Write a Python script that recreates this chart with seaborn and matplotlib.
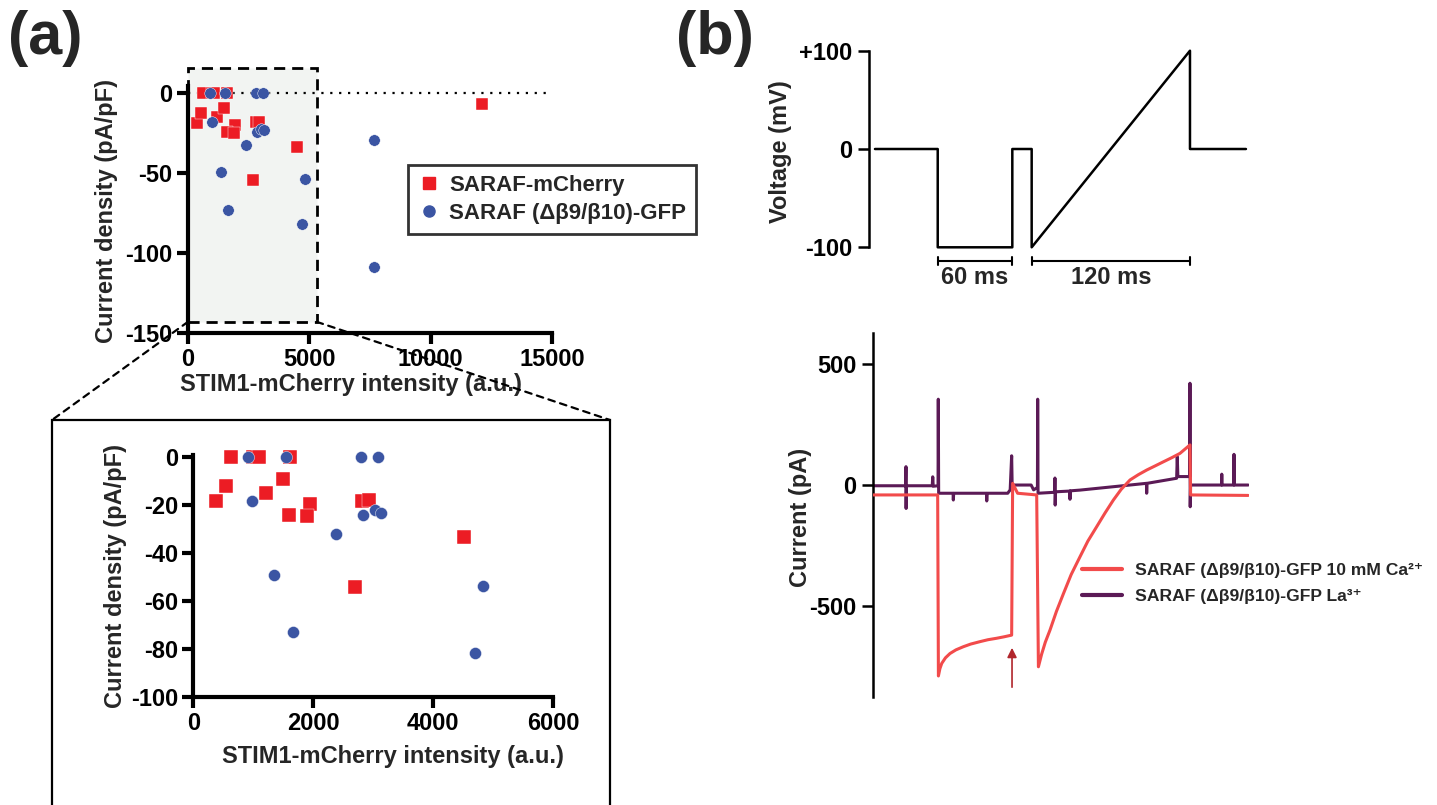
import matplotlib
matplotlib.use("Agg")
import matplotlib.pyplot as plt
import pandas as pd
import seaborn as sns
from matplotlib.lines import Line2D
from matplotlib.patches import Rectangle, ConnectionPatch

# ---------------- data ----------------
red_label = "SARAF-mCherry"
blue_label = "SARAF (Δβ9/β10)-GFP"
red_x = [622, 1000, 1090, 1611, 378, 544, 1211, 1500, 1944, 1594, 1900, 2806, 2928, 4511, 2694, 12100]
red_y = [0, 0, 0, 0, -18.5, -12.2, -15.0, -9.4, -19.7, -24.3, -24.7, -18.3, -18.1, -33.6, -54.2, -6.9]
blue_x = [906, 1544, 2794, 3078, 978, 2833, 3028, 3133, 2378, 1344, 1656, 4822, 4700, 7660, 7660]
blue_y = [0, 0, 0, 0, -18.3, -24.4, -22.2, -23.3, -32.2, -49.4, -73.1, -53.8, -81.9, -29.4, -108.5]

top_xticks = [0, 5000, 10000, 15000]
top_yticks = [0, -50, -100, -150]
ins_xticks = [0, 2000, 4000, 6000]
ins_yticks = [0, -20, -40, -60, -80, -100]
zoom_box_x = (0, 5300)
zoom_box_y = (-143, 15.6)

# voltage protocol (ms, mV)
v_t = [4.6, 55.5, 55.5, 116, 116, 131.7, 131.7, 260.1, 260.1, 305.5]
v_mv = [0, 0, -100, -100, 0, 0, -100, 100, 0, 0]
v_ticks = [100, 0, -100]
v_ticklabels = ["+100", "0", "-100"]
brackets = [(55.5, 116, "60 ms"), (131.7, 260.1, "120 ms")]

# current traces (ms, pA)
ca_label = "SARAF (Δβ9/β10)-GFP 10 mM Ca²⁺"
la_label = "SARAF (Δβ9/β10)-GFP La³⁺"
ca_t = [0, 52.2, 52.8, 54.0, 55.5, 58.5, 62.2, 67, 73, 79, 86.5, 93, 100, 106, 112.2, 113, 117,
        132.5, 133.9, 136.5, 139.5, 143.3, 148.5, 154.3, 160.5, 167.6, 174, 181.2, 188, 194.7,
        201, 208.2, 215, 221.7, 228.5, 235.2, 242, 248.7, 256.8, 257.3, 304]
ca_i = [-41, -41, -790, -760, -738, -715, -697, -682, -669, -658, -648, -640, -634, -628, -621, 7, -34,
        -41, -752, -700, -650, -600, -523, -448, -370, -297, -232, -172, -115, -62,
        -18, 21, 43, 62, 79, 96, 113, 131, 166, -41, -43]
la_t = [0, 26.3, 26.5, 26.6, 26.8, 47.8, 48.2, 48.6, 52.5, 52.7, 53, 64.7, 64.9, 65.2,
        91.8, 92, 92.3, 109, 111, 112.2, 112.6, 128, 130, 133.1, 133.3, 133.6,
        147.1, 147.3, 147.5, 147.8, 159.3, 159.5, 159.8, 167.6, 194.6, 221.5, 221.7, 222,
        246, 246.5, 247, 256.6, 256.8, 257, 257.3, 282.4, 282.6, 282.8, 292.3, 292.5, 292.7, 304]
la_i = [-3, -3, 76, -97, -3, -3, 34, -5, -3, 355, -34, -34, -62, -34,
        -34, -66, -34, -34, -20, 121, 0, 0, -20, -10, 355, -34,
        -30, 29, -83, -28, -25, -59, -24, -21, -7, 7, -34, 7,
        28, 117, 35, 35, 421, -90, 0, 0, 45, 0, 0, 127, 0, 0]
i_ticks = [500, 0, -500]
arrow_t = 112.5
arrow_i = (-848, -662)

# ---------------- style ----------------
sns.set_style("ticks")
plt.rcParams["font.family"] = ["Liberation Sans", "DejaVu Sans"]
plt.rcParams["font.weight"] = "bold"
plt.rcParams["axes.unicode_minus"] = False

RED = "#ec1c24"
BLUE = "#3b55a3"
CA = "#f24b4b"
LA = "#5b1a56"
FS = 17

W, H = 1437, 805
fig = plt.figure(figsize=(W / 100, H / 100), dpi=100)


def rect(l, t, r, b):
    return [l / W, 1 - b / H, (r - l) / W, (b - t) / H]


def place_label(ax, which, px, py):
    inv = ax.transAxes.inverted()
    x, y = inv.transform((px, H - py))
    if which == "y":
        ax.yaxis.set_label_coords(x, y)
        ax.yaxis.label.set_va("center")
    else:
        ax.xaxis.set_label_coords(x, y)
        ax.xaxis.label.set_va("center")


def style_axis(ax, lw, tl, pad):
    for s in ["top", "right"]:
        ax.spines[s].set_visible(False)
    for s in ["left", "bottom"]:
        ax.spines[s].set_linewidth(lw)
        ax.spines[s].set_color("black")
    ax.tick_params(width=lw, length=tl, labelsize=FS, pad=pad, colors="black")
    for lab in ax.get_xticklabels() + ax.get_yticklabels():
        lab.set_fontweight("bold")


df_red = pd.DataFrame({"x": red_x, "y": red_y})
df_blue = pd.DataFrame({"x": blue_x, "y": blue_y})

# ---------------- panel (a) top ----------------
ax1 = fig.add_axes(rect(188, 86, 552, 333))
ax1.set_facecolor("none")
ax1.add_patch(Rectangle((zoom_box_x[0], zoom_box_y[0]), zoom_box_x[1] - zoom_box_x[0],
                        zoom_box_y[1] - zoom_box_y[0], facecolor="#f2f4f2", edgecolor="black",
                        lw=2, ls=(0, (4, 2.5)), clip_on=False, zorder=0))
ax1.axhline(0, color="black", lw=1.6, ls=(0, (1, 3)), zorder=1)
sns.scatterplot(data=df_red, x="x", y="y", marker="s", color=RED, s=72, edgecolor="white",
                linewidth=0.3, ax=ax1, clip_on=False, zorder=3)
sns.scatterplot(data=df_blue, x="x", y="y", marker="o", color=BLUE, s=68, edgecolor="white",
                linewidth=0.3, ax=ax1, clip_on=False, zorder=3)
ax1.set_xlim(0, 15000)
ax1.set_ylim(-150, 4.4)
ax1.set_xticks(top_xticks)
ax1.set_yticks(top_yticks)
ax1.set_xticklabels([str(v) for v in top_xticks])
ax1.set_yticklabels([str(v) for v in top_yticks])
style_axis(ax1, 3, 8, 3)
ax1.set_xlabel("STIM1-mCherry intensity (a.u.)", fontsize=FS, fontweight="bold")
ax1.set_ylabel("Current density (pA/pF)", fontsize=FS, fontweight="bold")
handles = [Line2D([], [], marker="s", ls="", color=RED, markersize=8),
           Line2D([], [], marker="o", ls="", color=BLUE, markersize=8)]
leg = ax1.legend(handles, [red_label, blue_label], loc="upper left",
                 bbox_to_anchor=(408 / W, 1 - 165 / H), bbox_transform=fig.transFigure,
                 fontsize=16, frameon=True, fancybox=False, edgecolor="black",
                 handletextpad=0.4, borderpad=0.45, labelspacing=0.3, handlelength=1.0,
                 borderaxespad=0)
leg.get_frame().set_linewidth(2)
for t in leg.get_texts():
    t.set_fontweight("bold")

# ---------------- panel (a) inset ----------------
ax2 = fig.add_axes(rect(193.3, 444.7, 553.3, 696.7))
ax2.set_facecolor("none")
sns.scatterplot(data=df_red, x="x", y="y", marker="s", color=RED, s=88, edgecolor="white",
                linewidth=0.3, ax=ax2, zorder=3)
sns.scatterplot(data=df_blue, x="x", y="y", marker="o", color=BLUE, s=75, edgecolor="white",
                linewidth=0.3, ax=ax2, zorder=3)
ax2.set_xlim(0, 6000)
ax2.set_ylim(-100, 5)
ax2.spines["left"].set_bounds(-100, 0.7)
ax2.set_xticks(ins_xticks)
ax2.set_yticks(ins_yticks)
ax2.set_xticklabels([str(v) for v in ins_xticks])
ax2.set_yticklabels([str(v) for v in ins_yticks])
style_axis(ax2, 3, 8, 3)
ax2.set_xlabel("STIM1-mCherry intensity (a.u.)", fontsize=FS, fontweight="bold")
ax2.set_ylabel("Current density (pA/pF)", fontsize=FS, fontweight="bold")

# inset frame and zoom connectors
fig.add_artist(Rectangle((52 / W, -0.05), (610 - 52) / W, 1 - 420 / H + 0.05,
                         transform=fig.transFigure, fill=False, edgecolor="black", lw=1.6))
for xa, xb in [(zoom_box_x[0], 52), (zoom_box_x[1], 610)]:
    con = ConnectionPatch(xyA=(xa, zoom_box_y[0]), coordsA="data", axesA=ax1,
                          xyB=(xb, H - 420), coordsB="figure pixels",
                          color="black", lw=1.6, ls=(0, (3, 2.5)))
    fig.add_artist(con)

# ---------------- panel (b) voltage ----------------
ax3 = fig.add_axes(rect(869.3, 50.7, 1251.5, 247.3))
ax3.set_facecolor("none")
sns.lineplot(x=v_t, y=v_mv, ax=ax3, color="black", lw=1.8, sort=False, estimator=None)
for l in ax3.lines:
    l.set_clip_on(False)
ax3.set_xlim(0, 310)
ax3.set_ylim(-100, 100)
ax3.set_yticks(v_ticks)
ax3.set_yticklabels(v_ticklabels)
ax3.set_xticks([])
style_axis(ax3, 1.8, 8, 4)
ax3.spines["bottom"].set_visible(False)
ax3.set_ylabel("Voltage (mV)", fontsize=FS, fontweight="bold")
for a, b, lab in brackets:
    ax3.plot([a, b], [-113.6, -113.6], color="black", lw=1.5, clip_on=False)
    for e in (a, b):
        ax3.plot([e, e], [-109.5, -117.7], color="black", lw=1.5, clip_on=False)
    ax3.text((a + b) / 2, -131, lab, ha="center", va="center", fontsize=FS, fontweight="bold")

# ---------------- panel (b) current ----------------
ax4 = fig.add_axes(rect(873.3, 333, 1249.4, 697))
ax4.set_facecolor("none")
sns.lineplot(x=ca_t, y=ca_i, ax=ax4, color=CA, lw=2.2, sort=False, estimator=None,
             label=ca_label, zorder=3)
sns.lineplot(x=la_t, y=la_i, ax=ax4, color=LA, lw=2.2, sort=False, estimator=None,
             label=la_label, zorder=2)
ax4.set_xlim(0, 305)
ax4.set_ylim(-877, 629)
ax4.set_yticks(i_ticks)
ax4.set_yticklabels([str(v) for v in i_ticks])
ax4.set_xticks([])
style_axis(ax4, 1.8, 8, 4)
ax4.spines["bottom"].set_visible(False)
ax4.set_ylabel("Current (pA)", fontsize=FS, fontweight="bold")
ax4.annotate("", xy=(arrow_t, arrow_i[1]), xytext=(arrow_t, arrow_i[0]),
             arrowprops=dict(arrowstyle="-|>", color="#b1262c", lw=1.2, mutation_scale=14))
leg2 = ax4.legend(loc="upper left", bbox_to_anchor=(1082 / W, 1 - 563 / H),
                  bbox_transform=fig.transFigure, frameon=False, fontsize=12.6,
                  handlelength=2.3, handletextpad=0.75, labelspacing=0.6, borderaxespad=0,
                  borderpad=0)
for t in leg2.get_texts():
    t.set_fontweight("bold")
for l in leg2.get_lines():
    l.set_linewidth(3)

# label placement
place_label(ax1, "y", 107, 211)
place_label(ax1, "x", 351, 384)
place_label(ax2, "y", 116, 576)
place_label(ax2, "x", 393, 756)
place_label(ax3, "y", 780, 152)
place_label(ax4, "y", 800, 517)

fig.text(8 / W, 1 - 10 / H, "(a)", fontsize=44, fontweight="bold", ha="left", va="top")
fig.text(676 / W, 1 - 10 / H, "(b)", fontsize=44, fontweight="bold", ha="left", va="top")

fig.savefig("out.png", dpi=100)
